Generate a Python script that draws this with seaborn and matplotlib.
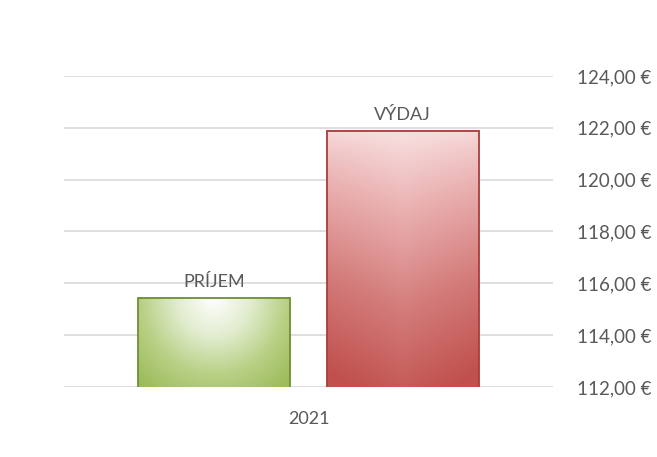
import numpy as np
import pandas as pd
import seaborn as sns
import matplotlib.pyplot as plt
from matplotlib.colors import LinearSegmentedColormap
from matplotlib.ticker import FuncFormatter

# data
years = ["2021"]
kinds = ["PRÍJEM", "VÝDAJ"]
values = [115.45, 121.88]

df = pd.DataFrame({"rok": years * len(kinds), "typ": kinds, "suma": values})

sns.set_theme(style="white")
plt.rcParams['font.family'] = ['Lato', 'DejaVu Sans']

fig = plt.figure(figsize=(6.57, 4.57), dpi=100)
ax = fig.add_axes([64 / 657, 1 - 387 / 457, (553 - 64) / 657, (387 - 76) / 457])

sns.barplot(data=df, x="rok", y="suma", hue="typ", width=0.771, gap=0.194,
            palette=["#9bbb59", "#c0504d"], legend=False, ax=ax, zorder=3)

ymin, ymax = 112, 124
ax.set_ylim(ymin, ymax)
ax.set_xlim(-0.5, 0.5)
ax.set_yticks(np.arange(112, 125, 2))
ax.yaxis.set_major_formatter(FuncFormatter(lambda v, p: f"{v:.2f}".replace(".", ",") + " €"))
ax.yaxis.tick_right()
ax.grid(axis="y", color="#d9d9d9", lw=1.2, zorder=0)
ax.tick_params(axis="y", length=0, pad=17, labelsize=13.5, labelcolor="#595959")
ax.tick_params(axis="x", length=0, pad=17, labelsize=13, labelcolor="#595959")
ax.set_xlabel("")
ax.set_ylabel("")
for s in ax.spines.values():
    s.set_visible(False)

# gradient fills
green_cmap = LinearSegmentedColormap.from_list("g", ["#ffffff", "#e2edcf", "#b8d085", "#9cbb5a"])
red_cmap = LinearSegmentedColormap.from_list("r", ["#fbe9e9", "#e9aeae", "#d27a78", "#c0504d"])
edges = ["#6f8f34", "#a83d3a"]

n = 200
xx, yy = np.meshgrid(np.linspace(-1, 1, n), np.linspace(0, 1, n))
radial = np.clip(np.sqrt((xx * 0.9) ** 2 + ((1 - yy) * 1.0) ** 2) / 1.3, 0, 1)
linear = np.clip((1 - yy) * 0.85 + 0.15 * np.abs(xx) * (1 - yy) ** 0.3 + 0.05, 0, 1)

for bar, cmap, grad, ec in zip(ax.patches, [green_cmap, red_cmap], [radial, linear], edges):
    x0 = bar.get_x()
    w = bar.get_width()
    top = bar.get_y() + bar.get_height()
    bar.set_facecolor("none")
    bar.set_edgecolor(ec)
    bar.set_linewidth(1.3)
    ax.imshow(grad, cmap=cmap, vmin=0, vmax=1, origin="lower",
              extent=(x0, x0 + w, ymin, top), aspect="auto", zorder=2.5)

for bar, label in zip(ax.patches, kinds):
    ax.text(bar.get_x() + bar.get_width() / 2, bar.get_y() + bar.get_height() + 0.3, label,
            ha="center", va="bottom", fontsize=13, color="#595959")

ax.set_xlim(-0.5, 0.5)
ax.set_ylim(ymin, ymax)
fig.savefig("out.png", dpi=100)
